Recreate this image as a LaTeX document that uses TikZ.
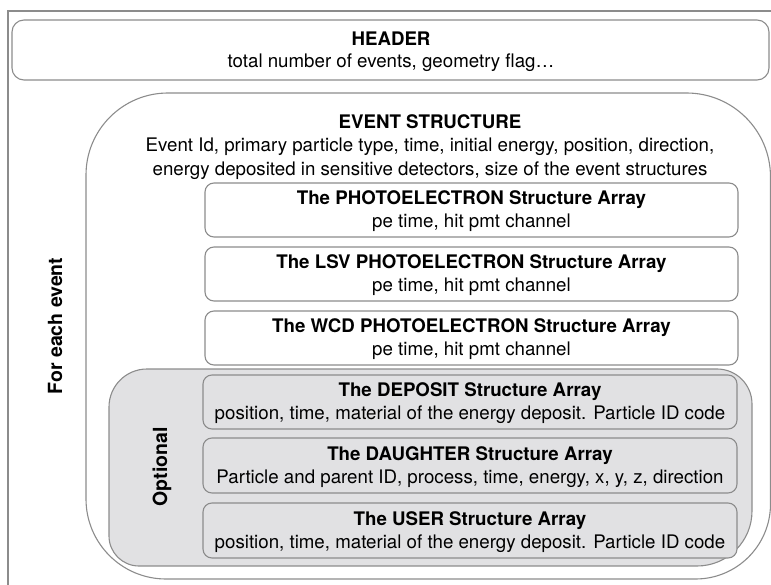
\documentclass[tikz,border=0pt]{standalone}
\usepackage{fontspec}
\setmainfont{TeX Gyre Heros}
\definecolor{linegray}{HTML}{8C8C8C}
\definecolor{optgray}{HTML}{E1E1E3}
\begin{document}
\begin{tikzpicture}[x=1pt,y=-1pt,
  line/.style={draw=linegray, line width=1.1pt},
  txt/.style={align=center, inner sep=0pt, font=\fontsize{18.7}{23}\selectfont},
  wbox/.style={line, fill=white, rounded corners=9pt, minimum width=533pt, minimum height=54pt, inner sep=0pt},
  gbox/.style={wbox, fill=optgray, minimum width=534pt},
  vlabel/.style={rotate=90, inner sep=0pt, font=\fontsize{19.5}{22}\selectfont\bfseries},
]
\useasboundingbox (0,0) rectangle (771,585);
% outer frame
\coordinate (frTR) at (771,11);
\coordinate (frTL) at (8,11);
\coordinate (frBL) at (8,585);
\draw[line] (frTR) -- (frTL) -- (frBL);
% header
\node[line, rounded corners=12pt, minimum width=757pt, minimum height=60pt, inner sep=0pt] (header) at (390.5,50) {};
\node[txt, font=\fontsize{18.7}{22}\selectfont] (headertxt) at (391,52) {\textbf{HEADER}\\total number of events, geometry flag\ldots};
% event structure outline
\draw[line] (86,175) arc[start angle=180,end angle=270,radius=82] -- (686.5,93)
  arc[start angle=270,end angle=360,radius=84] -- (770.5,504)
  arc[start angle=0,end angle=90,radius=75] -- (166,579)
  arc[start angle=90,end angle=180,radius=80] -- cycle;
\node[txt, font=\fontsize{18.7}{23.5}\selectfont] (evtxt) at (430,147) {\textbf{EVENT STRUCTURE}\\Event Id, primary particle type, time, initial energy, position, direction,\\energy deposited in sensitive detectors, size of the event structures};
% optional region
\draw[line, fill=optgray] (109,407) arc[start angle=180,end angle=270,radius=38] -- (717,369)
  arc[start angle=270,end angle=360,radius=35] -- (752,511)
  arc[start angle=0,end angle=90,radius=55] -- (139,566)
  arc[start angle=90,end angle=180,radius=30] -- cycle;
% labels
\node[vlabel] (foreach) at (55,326) {For each event};
\node[vlabel] (optional) at (162,467) {Optional};
% white boxes
\node[wbox] (pe) at (471.5,210) {};
\node[txt] (petxt) at (471.5,211) {\textbf{The PHOTOELECTRON Structure Array}\\pe time, hit pmt channel};
\node[wbox] (lsv) at (471.5,274) {};
\node[txt] (lsvtxt) at (471.5,275) {\textbf{The LSV PHOTOELECTRON Structure Array}\\pe time, hit pmt channel};
\node[wbox] (wcd) at (471.5,338) {};
\node[txt] (wcdtxt) at (471.5,339) {\textbf{The WCD PHOTOELECTRON Structure Array}\\pe time, hit pmt channel};
% gray boxes
\node[gbox] (dep) at (470,402) {};
\node[txt] (deptxt) at (470,403) {\textbf{The DEPOSIT Structure Array}\\position, time, material of the energy deposit. Particle ID code};
\node[gbox, minimum height=55pt] (dau) at (470,465.5) {};
\node[txt] (dautxt) at (470,467) {\textbf{The DAUGHTER Structure Array}\\Particle and parent ID, process, time, energy, x, y, z, direction};
\node[gbox, minimum height=55pt] (usr) at (470,530.5) {};
\node[txt] (usrtxt) at (470,532) {\textbf{The USER Structure Array}\\position, time, material of the energy deposit. Particle ID code};
\end{tikzpicture}
\end{document}
